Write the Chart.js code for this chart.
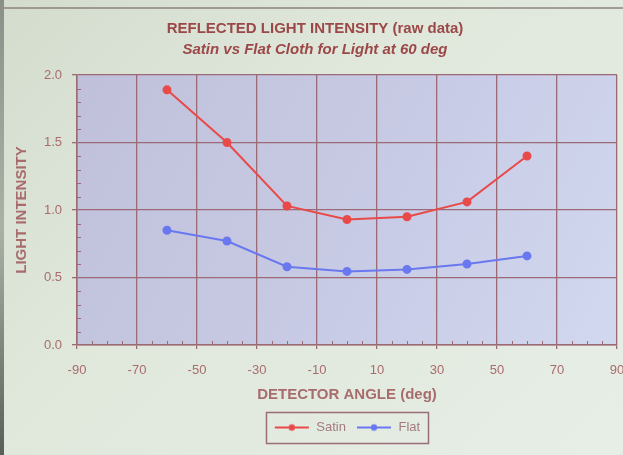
<!DOCTYPE html>
<html>
<head>
<meta charset="utf-8">
<script src="https://cdn.jsdelivr.net/npm/chart.js@4"></script>
<style>
html,body{margin:0;padding:0;}
body{width:623px;height:455px;overflow:hidden;background:linear-gradient(135deg,#d3dccd 0%,#e0e8dc 40%,#e6eee6 100%);position:relative;}
#frameTop{position:absolute;left:0;top:7px;width:623px;height:2px;background:#8a7a78;opacity:0.7;}
#frameLeft{position:absolute;left:0;top:0;width:4px;height:455px;background:linear-gradient(180deg,#8a9088,#aab2a8 50%,#5a5e58);}
#wrap{position:absolute;left:0;top:0;width:623px;height:455px;}
</style>
</head>
<body>
<div id="frameTop"></div>
<div id="frameLeft"></div>
<div id="wrap"><canvas id="c" width="623" height="455"></canvas></div>
<script>
const angles = [-60, -40, -20, 0, 20, 40, 60];
const satin  = [1.89, 1.50, 1.03, 0.93, 0.95, 1.06, 1.40];
const flat   = [0.85, 0.77, 0.58, 0.545, 0.56, 0.60, 0.66];
const xTicks = [-90, -70, -50, -30, -10, 10, 30, 50, 70, 90];
const yTicks = [0.0, 0.5, 1.0, 1.5, 2.0];

const textCol = '#a86c6c';
const titleCol = '#9c4848';
const gridCol = '#9c6a74';

function legendIcon(color){
  const c = document.createElement('canvas');
  c.width = 36; c.height = 10;
  const g = c.getContext('2d');
  g.strokeStyle = color; g.lineWidth = 2;
  g.beginPath(); g.moveTo(1,5); g.lineTo(35,5); g.stroke();
  g.fillStyle = color; g.beginPath(); g.arc(18,5,3.2,0,Math.PI*2); g.fill();
  return c;
}
const icons = {Satin: legendIcon('#e84a4a'), Flat: legendIcon('#6a78f0')};

const plotBg = {
  id:'plotBg',
  beforeDraw(chart){
    const {ctx, chartArea:a} = chart;
    const g = ctx.createLinearGradient(a.left, a.top, a.right, a.bottom);
    g.addColorStop(0,'#c0c0da'); g.addColorStop(0.6,'#c9cce6'); g.addColorStop(1,'#d2d8f0');
    ctx.save(); ctx.fillStyle = g; ctx.fillRect(a.left, a.top, a.right-a.left, a.bottom-a.top); ctx.restore();
  },
  afterDraw(chart){
    const {ctx, chartArea:a} = chart;
    const xs = chart.scales.x, ys = chart.scales.y;
    ctx.save();
    ctx.strokeStyle = gridCol; ctx.lineWidth = 1;
    for (let v = -90; v <= 90; v += 5){
      if ((v + 90) % 20 === 0) continue;
      const px = Math.round(xs.getPixelForValue(v)) + 0.5;
      ctx.beginPath(); ctx.moveTo(px, a.bottom); ctx.lineTo(px, a.bottom - 4); ctx.stroke();
    }
    for (let i = 1; i < 20; i++){
      if (i % 5 === 0) continue;
      const py = Math.round(ys.getPixelForValue(i/10)) + 0.5;
      ctx.beginPath(); ctx.moveTo(a.left, py); ctx.lineTo(a.left + 4, py); ctx.stroke();
    }
    const lg = chart.legend;
    if (lg && lg.legendHitBoxes && lg.legendHitBoxes.length){
      const hb = lg.legendHitBoxes;
      const l = hb[0].left - 8, r = hb[hb.length-1].left + hb[hb.length-1].width + 8;
      const t = hb[0].top - 9, b = hb[0].top + hb[0].height + 9;
      ctx.strokeStyle = '#9a6e76'; ctx.lineWidth = 1.5;
      ctx.strokeRect(Math.round(l)+0.5, Math.round(t)+0.5, Math.round(r-l), Math.round(b-t));
    }
    ctx.restore();
  }
};

new Chart(document.getElementById('c'), {
  type: 'line',
  data: {
    datasets: [
      {label:'Satin', data: angles.map((a,i)=>({x:a,y:satin[i]})), borderColor:'#e84a4a', backgroundColor:'#e84a4a', borderWidth:2, pointRadius:3.5, pointHoverRadius:3.5, tension:0},
      {label:'Flat', data: angles.map((a,i)=>({x:a,y:flat[i]})), borderColor:'#6a78f0', backgroundColor:'#6a78f0', borderWidth:2, pointRadius:3.5, pointHoverRadius:3.5, tension:0}
    ]
  },
  options: {
    responsive:false, animation:false, devicePixelRatio:1,
    layout:{padding:{top:20,right:6,bottom:11,left:13}},
    plugins:{
      title:{display:true, text:'REFLECTED LIGHT INTENSITY (raw data)', color:titleCol,
        font:{family:'Liberation Sans', size:15, weight:'bold'}, padding:{top:0,bottom:3}},
      subtitle:{display:true, text:'Satin vs Flat Cloth for Light at 60 deg', color:titleCol,
        font:{family:'Liberation Sans', size:15, weight:'bold', style:'italic'}, padding:{top:0,bottom:16}},
      legend:{position:'bottom', fullSize:false, labels:{
        color:'#a47a80', font:{family:'Liberation Sans', size:13}, padding:10, usePointStyle:true, pointStyleWidth:36, boxHeight:10,
        generateLabels(chart){
          return chart.data.datasets.map((d,i)=>({text:d.label, fillStyle:d.borderColor, strokeStyle:d.borderColor, pointStyle:icons[d.label], datasetIndex:i, lineWidth:0, fontColor:'#a47a80'}));
        }}},
      tooltip:{enabled:false}
    },
    scales:{
      x:{type:'linear', min:-90, max:90,
        afterBuildTicks(s){ s.ticks = xTicks.map(v=>({value:v})); },
        afterFit(s){ s.height = 66; s.paddingLeft = 0; s.paddingRight = 0; },
        grid:{color:gridCol, lineWidth:1.3, drawTicks:true, tickLength:4, tickColor:gridCol},
        border:{color:gridCol, width:1.5},
        ticks:{color:textCol, font:{family:'Liberation Sans', size:13}, padding:14, maxRotation:0, autoSkip:false},
        title:{display:true, text:'DETECTOR ANGLE (deg)', color:textCol, font:{family:'Liberation Sans', size:15, weight:'bold'}, padding:{top:4,bottom:7}}
      },
      y:{min:0, max:2,
        afterBuildTicks(s){ s.ticks = yTicks.map(v=>({value:v})); },
        afterFit(s){ s.width = 64; s.paddingTop = 0; s.paddingBottom = 0; },
        grid:{color:gridCol, lineWidth:1.3, drawTicks:true, tickLength:5, tickColor:gridCol},
        border:{color:gridCol, width:1.5},
        ticks:{color:textCol, font:{family:'Liberation Sans', size:13}, padding:10, callback:v=>Number(v).toFixed(1)},
        title:{display:true, text:'LIGHT INTENSITY', color:textCol, font:{family:'Liberation Sans', size:15, weight:'bold'}, padding:{top:0,bottom:7}}
      }
    }
  },
  plugins:[plotBg]
});
</script>
</body>
</html>
